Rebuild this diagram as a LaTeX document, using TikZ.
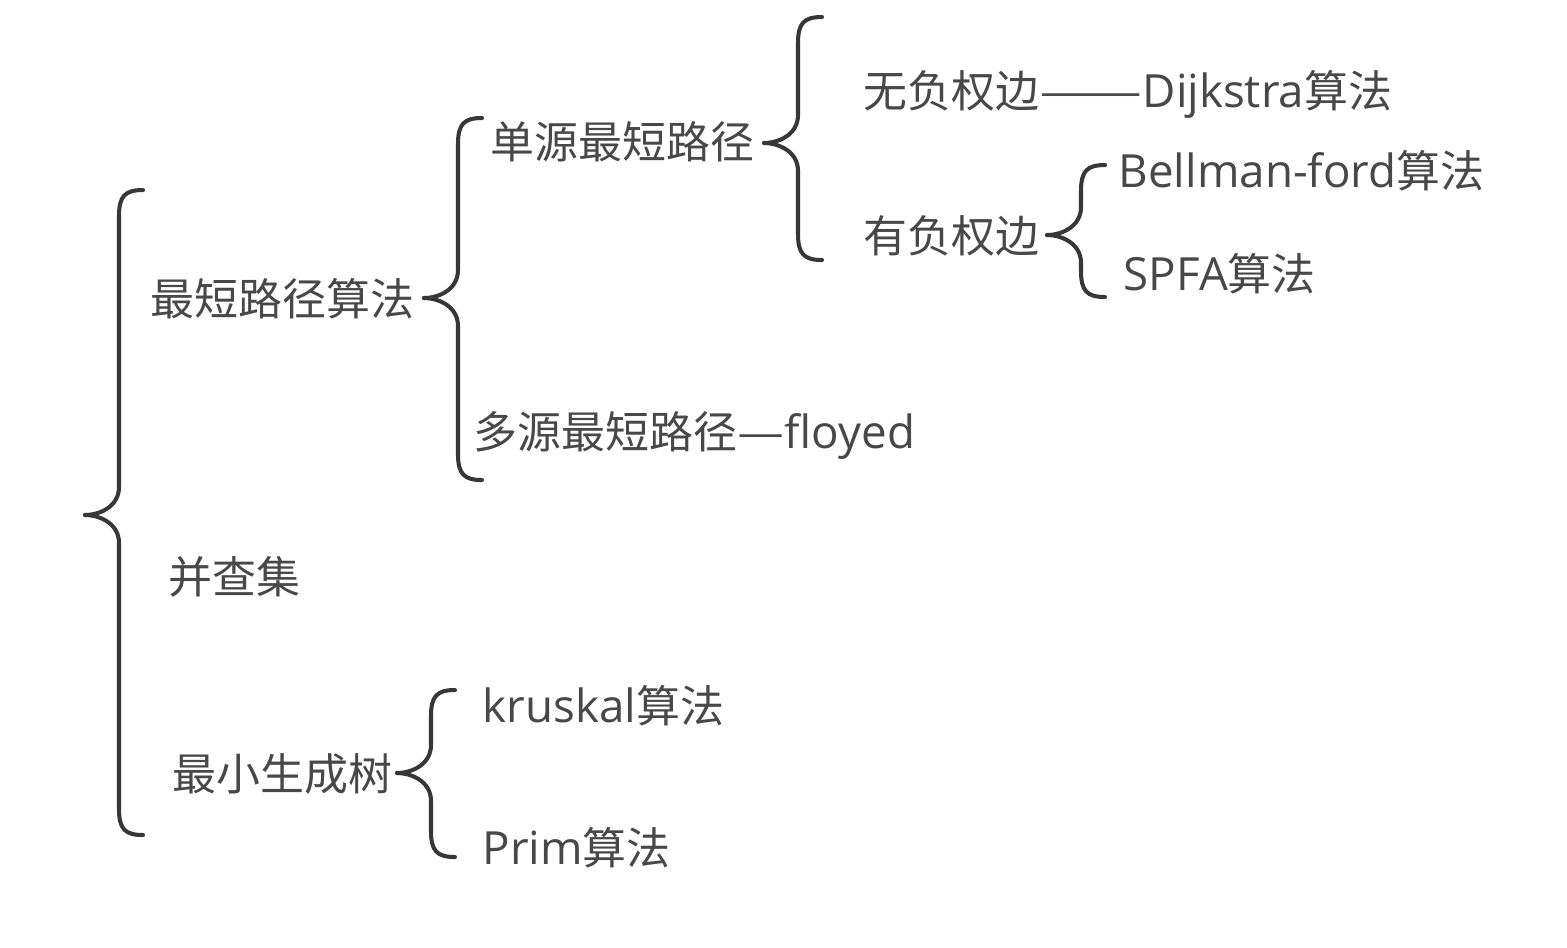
\documentclass[tikz,border=0pt]{standalone}
\usepackage{graphicx}
\usepackage{fontspec}
\setmainfont{Noto Sans CJK SC}
\newfontfamily\latinfont{Open Sans}
\newcommand\lat[1]{{\latinfont\fontsize{13}{14}\selectfont #1}}
\newcommand\wdash[2]{\scalebox{#1}[1]{#2}}
\definecolor{txtGray}{RGB}{72, 72, 72}
\definecolor{brcGray}{RGB}{55, 55, 55}
% curly brace: x of ends, top y, tip y, bottom y
\newcommand\curly[4]{%
  \draw[brc] (#1,#2) .. controls (#1-18,#2) and (#1-24,#2+6) .. (#1-24,#2+26)
    -- (#1-24,#3-28) .. controls (#1-24,#3-8) and (#1-44,#3) .. (#1-58,#3);
  \draw[brc] (#1,#4) .. controls (#1-18,#4) and (#1-24,#4-6) .. (#1-24,#4-26)
    -- (#1-24,#3+28) .. controls (#1-24,#3+8) and (#1-44,#3) .. (#1-58,#3);
}

\begin{document}
\begin{tikzpicture}[x=0.01cm, y=-0.01cm,
  lbl/.style={anchor=west, inner sep=0pt, text=txtGray,
              text height=0.8em, text depth=0.12em,
              font=\fontsize{12.5}{14}\selectfont},
  brc/.style={draw=brcGray, line width=1.15pt, line cap=round},
]
  \useasboundingbox (0,0) rectangle (1567,947);

  % Level 1
  \node[lbl] (sp)  at (150,304) {最短路径算法};
  \node[lbl] (dsu) at (168,582) {并查集};
  \node[lbl] (mst) at (172,779) {最小生成树};

  % Level 2
  \node[lbl] (ss)   at (490,147) {单源最短路径};
  \node[lbl] (ms)   at (473,437) {多源最短路径\wdash{1.2}{—}\lat{floyed}};
  \node[lbl] (kru)  at (482,711) {\lat{kruskal}算法};
  \node[lbl] (prim) at (482,853) {\lat{Prim}算法};

  % Level 3
  \node[lbl] (nonneg) at (863,96)  {无负权边\wdash{1.4}{——}\lat{Dijkstra}算法};
  \node[lbl] (neg)    at (863,241) {有负权边};

  % Level 4
  \node[lbl] (bf)   at (1118,176) {\lat{Bellman-ford}算法};
  \node[lbl] (spfa) at (1123,279) {\lat{SPFA}算法};

  % Braces
  \curly{143}{190}{515}{835}
  \curly{482}{118}{298}{480}
  \curly{822}{17}{143}{260}
  \curly{1105}{165}{235}{297}
  \curly{455}{690}{773}{857}
\end{tikzpicture}
\end{document}
